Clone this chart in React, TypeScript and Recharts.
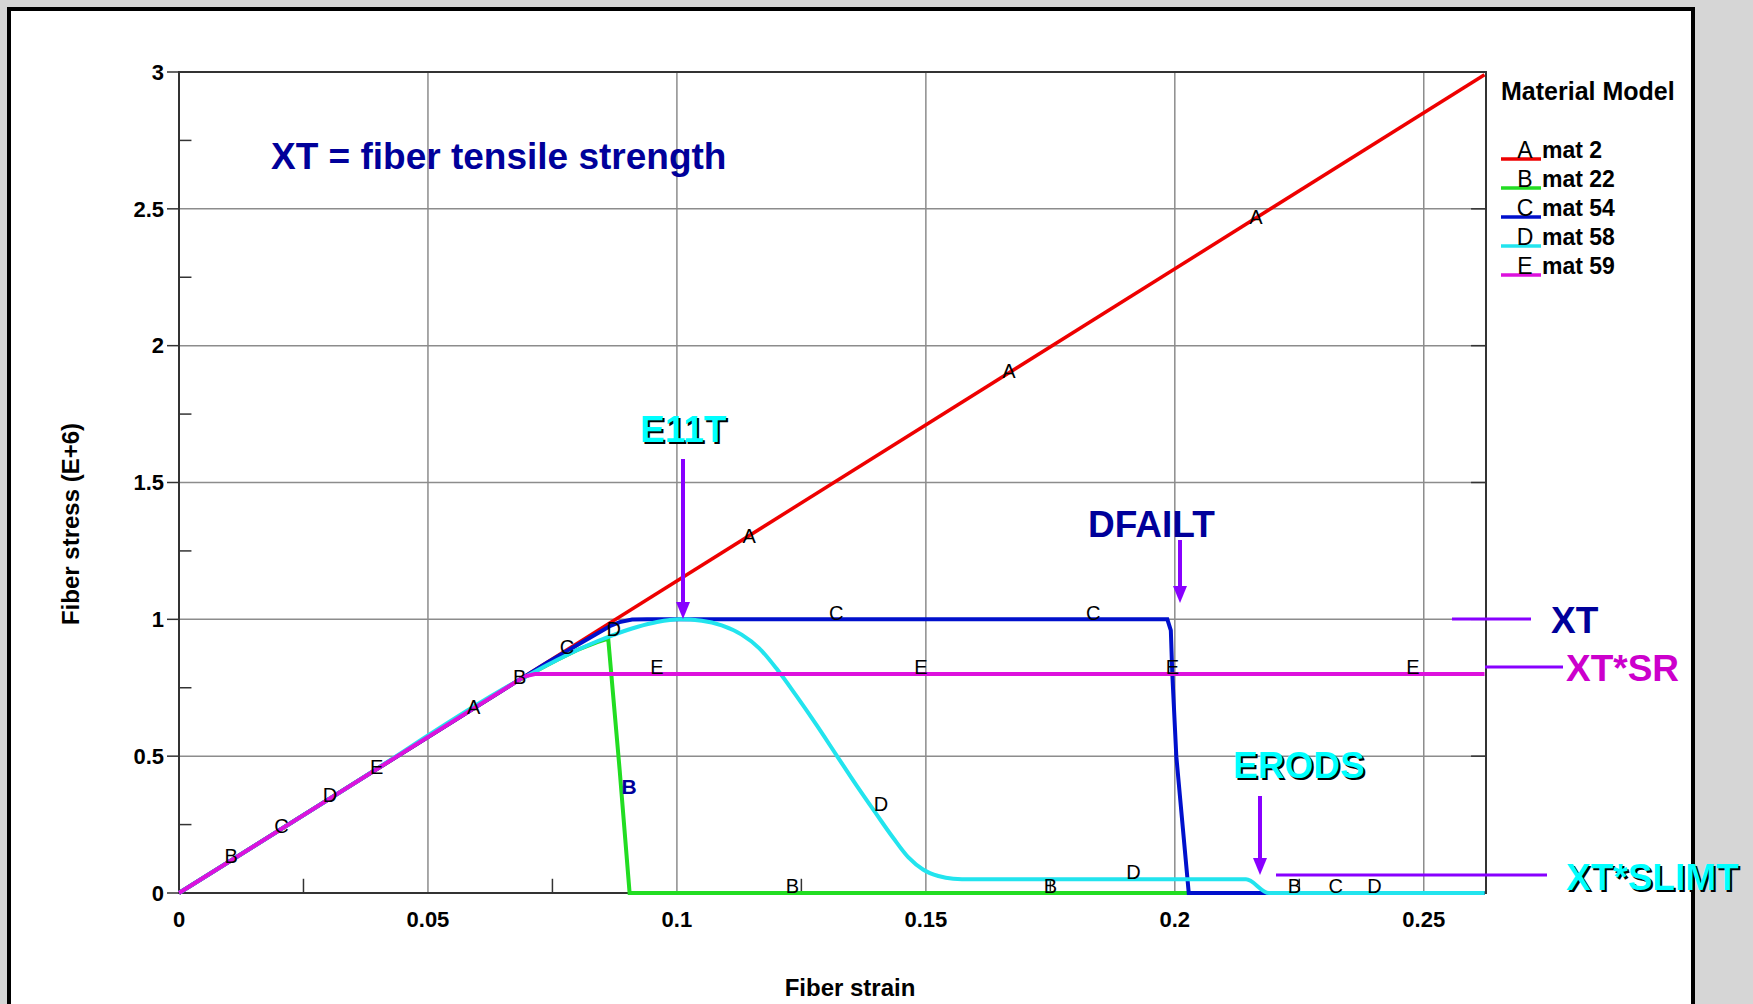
import React from "react";
import {
  ComposedChart,
  Line,
  Scatter,
  XAxis,
  YAxis,
  CartesianGrid,
  ReferenceArea,
  ReferenceLine,
} from "recharts";

const FONT = "'Liberation Sans', Arial, Helvetica, sans-serif";

// curves: fiber strain (x) vs fiber stress E+6 (y)
const mat2 = [
  { x: 0, y: 0 },
  { x: 0.2622, y: 2.99 },
];

const mat22 = [
  { x: 0, y: 0 },
  { x: 0.068, y: 0.775 },
  { x: 0.072, y: 0.814 },
  { x: 0.076, y: 0.852 },
  { x: 0.08, y: 0.888 },
  { x: 0.084, y: 0.917 },
  { x: 0.0862, y: 0.93 },
  { x: 0.0885, y: 0.45 },
  { x: 0.0905, y: 0 },
  { x: 0.2622, y: 0 },
];

const mat54 = [
  { x: 0, y: 0 },
  { x: 0.068, y: 0.775 },
  { x: 0.074, y: 0.842 },
  { x: 0.08, y: 0.906 },
  { x: 0.084, y: 0.948 },
  { x: 0.0865, y: 0.975 },
  { x: 0.0885, y: 0.99 },
  { x: 0.091, y: 0.999 },
  { x: 0.094, y: 1.0 },
  { x: 0.1985, y: 1.0 },
  { x: 0.1992, y: 0.96 },
  { x: 0.1995, y: 0.8 },
  { x: 0.2003, y: 0.5 },
  { x: 0.2016, y: 0.24 },
  { x: 0.2028, y: 0 },
  { x: 0.2622, y: 0 },
];

const mat58 = [
  { x: 0, y: 0 },
  { x: 0.034, y: 0.3875 },
  { x: 0.068, y: 0.775 },
  { x: 0.072, y: 0.814 },
  { x: 0.076, y: 0.852 },
  { x: 0.08, y: 0.888 },
  { x: 0.084, y: 0.92 },
  { x: 0.088, y: 0.948 },
  { x: 0.092, y: 0.972 },
  { x: 0.096, y: 0.99 },
  { x: 0.1005, y: 1.0 },
  { x: 0.105, y: 0.995 },
  { x: 0.109, y: 0.978 },
  { x: 0.113, y: 0.944 },
  { x: 0.1165, y: 0.895 },
  { x: 0.12, y: 0.82 },
  { x: 0.124, y: 0.72 },
  { x: 0.128, y: 0.615 },
  { x: 0.132, y: 0.505 },
  { x: 0.136, y: 0.395 },
  { x: 0.14, y: 0.29 },
  { x: 0.1435, y: 0.2 },
  { x: 0.1465, y: 0.13 },
  { x: 0.1495, y: 0.085 },
  { x: 0.1525, y: 0.062 },
  { x: 0.1555, y: 0.052 },
  { x: 0.159, y: 0.05 },
  { x: 0.2143, y: 0.05 },
  { x: 0.2189, y: 0 },
  { x: 0.2622, y: 0 },
];

const mat59 = [
  { x: 0, y: 0 },
  { x: 0.0695, y: 0.792 },
  { x: 0.0715, y: 0.8 },
  { x: 0.2622, y: 0.8 },
];

// letter markers along the curves
const curveLabels = [
  { x: 0.0592, y: 0.68, t: "A" },
  { x: 0.1145, y: 1.306, t: "A" },
  { x: 0.1667, y: 1.906, t: "A" },
  { x: 0.2163, y: 2.47, t: "A" },
  { x: 0.0105, y: 0.135, t: "B" },
  { x: 0.0684, y: 0.79, t: "B" },
  { x: 0.1232, y: 0.025, t: "B" },
  { x: 0.175, y: 0.025, t: "B" },
  { x: 0.224, y: 0.025, t: "B" },
  { x: 0.0206, y: 0.245, t: "C" },
  { x: 0.0779, y: 0.898, t: "C" },
  { x: 0.132, y: 1.024, t: "C" },
  { x: 0.1836, y: 1.024, t: "C" },
  { x: 0.2323, y: 0.025, t: "C" },
  { x: 0.0303, y: 0.359, t: "D" },
  { x: 0.0873, y: 0.963, t: "D" },
  { x: 0.141, y: 0.327, t: "D" },
  { x: 0.1917, y: 0.078, t: "D" },
  { x: 0.2401, y: 0.025, t: "D" },
  { x: 0.0397, y: 0.461, t: "E" },
  { x: 0.096, y: 0.824, t: "E" },
  { x: 0.149, y: 0.824, t: "E" },
  { x: 0.1995, y: 0.824, t: "E" },
  { x: 0.2478, y: 0.824, t: "E" },
];

const boldLabels = [{ x: 0.0904, y: 0.388, t: "B" }];

const xTicks = [0, 0.05, 0.1, 0.15, 0.2, 0.25];
const yTicks = [0, 0.5, 1, 1.5, 2, 2.5, 3];
const xMinor = [0.025, 0.075, 0.125, 0.175, 0.225];
const yMinor = [0.25, 0.75, 1.25, 1.75, 2.25, 2.75];

const legendItems = [
  { letter: "A", name: "mat 2", color: "#ee0000" },
  { letter: "B", name: "mat 22", color: "#22dd22" },
  { letter: "C", name: "mat 54", color: "#0010cc" },
  { letter: "D", name: "mat 58", color: "#22e4ee" },
  { letter: "E", name: "mat 59", color: "#dd11dd" },
];

const X_MAX = 0.2625;
const AXIS = "#333";
const GRID = "#8c8c8c";
const PURPLE = "#8800ff";
const NAVY = "#00009a";
const CYAN = "#00ffff";

const LetterShape = (props: any) => (
  <text
    x={props.cx}
    y={props.cy}
    textAnchor="middle"
    dominantBaseline="central"
    fontFamily={FONT}
    fontSize={20}
    fill="#000"
  >
    {props.payload.t}
  </text>
);

const BoldLetterShape = (props: any) => (
  <text
    x={props.cx}
    y={props.cy}
    textAnchor="middle"
    dominantBaseline="central"
    fontFamily={FONT}
    fontSize={21}
    fontWeight="bold"
    fill={NAVY}
  >
    {props.payload.t}
  </text>
);

function Arrow({ x, y1, y2 }: { x: number; y1: number; y2: number }) {
  const head = 17;
  return (
    <g>
      <line x1={x} y1={y1} x2={x} y2={y2 - head + 2} stroke={PURPLE} strokeWidth={4} />
      <polygon points={`${x - 7},${y2 - head} ${x + 7},${y2 - head} ${x},${y2}`} fill={PURPLE} />
    </g>
  );
}

function ShadowText({ x, y, text, color }: { x: number; y: number; text: string; color: string }) {
  return (
    <g fontFamily={FONT} fontSize={37} fontWeight="bold">
      <text x={x + 2} y={y + 2} fill="#000">
        {text}
      </text>
      <text x={x} y={y} fill={color}>
        {text}
      </text>
    </g>
  );
}

export default function App() {
  const tickStyle = { fontFamily: FONT, fontSize: 22, fontWeight: "bold", fill: "#000" };
  return (
    <div style={{ position: "absolute", left: 0, top: 0, width: 1753, height: 1004, background: "#d6d6d6", overflow: "hidden" }}>
      <div
        style={{
          position: "absolute",
          left: 7,
          top: 7,
          width: 1688,
          height: 1010,
          border: "4px solid #000",
          boxSizing: "border-box",
          background: "#fff",
        }}
      />
      <div style={{ position: "absolute", left: 0, top: 0 }}>
        <ComposedChart width={1753} height={1004} margin={{ top: 72, right: 267, bottom: 71, left: 119 }}>
          <CartesianGrid stroke={GRID} strokeWidth={1.5} />
          <ReferenceArea x1={0} x2={X_MAX} y1={0} y2={3} fill="none" stroke={AXIS} strokeWidth={2} />
          <XAxis
            type="number"
            dataKey="x"
            domain={[0, X_MAX]}
            ticks={xTicks}
            tickFormatter={(v: number) => String(v)}
            height={40}
            tickSize={0}
            tickMargin={18}
            tick={tickStyle}
            axisLine={false}
          />
          <YAxis
            type="number"
            dataKey="y"
            domain={[0, 3]}
            ticks={yTicks}
            width={60}
            tickSize={12}
            tickMargin={3}
            tick={tickStyle}
            tickLine={{ stroke: AXIS, strokeWidth: 1.5 }}
            axisLine={false}
          />
          {yMinor.map((v) => (
            <ReferenceLine
              key={"ym" + v}
              segment={[
                { x: 0, y: v },
                { x: 0.0025, y: v },
              ]}
              stroke={AXIS}
              strokeWidth={1.5}
            />
          ))}
          {yTicks.map((v) => (
            <ReferenceLine
              key={"yr" + v}
              segment={[
                { x: X_MAX - 0.003, y: v },
                { x: X_MAX, y: v },
              ]}
              stroke={AXIS}
              strokeWidth={1.5}
            />
          ))}
          {xMinor.map((v) => (
            <ReferenceLine
              key={"xm" + v}
              segment={[
                { x: v, y: 0 },
                { x: v, y: 0.052 },
              ]}
              stroke={AXIS}
              strokeWidth={1.5}
            />
          ))}
          <Line data={mat2} dataKey="y" type="linear" stroke="#ee0000" strokeWidth={3.5} dot={false} isAnimationActive={false} />
          <Line data={mat22} dataKey="y" type="linear" stroke="#22dd22" strokeWidth={4} dot={false} isAnimationActive={false} />
          <Line data={mat54} dataKey="y" type="linear" stroke="#0010cc" strokeWidth={4} dot={false} isAnimationActive={false} />
          <Line data={mat58} dataKey="y" type="monotone" stroke="#22e4ee" strokeWidth={4} dot={false} isAnimationActive={false} />
          <Line data={mat59} dataKey="y" type="linear" stroke="#dd11dd" strokeWidth={4} dot={false} isAnimationActive={false} />
          <Scatter data={curveLabels} dataKey="y" shape={LetterShape} isAnimationActive={false} />
          <Scatter data={boldLabels} dataKey="y" shape={BoldLetterShape} isAnimationActive={false} />
        </ComposedChart>
      </div>
      <svg width={1753} height={1004} style={{ position: "absolute", left: 0, top: 0, pointerEvents: "none" }}>
        <text
          x={70}
          y={524}
          transform="rotate(-90 70 524)"
          textAnchor="middle"
          dominantBaseline="central"
          fontFamily={FONT}
          fontSize={24}
          fontWeight="bold"
        >
          Fiber stress (E+6)
        </text>
        <text x={850} y={996} textAnchor="middle" fontFamily={FONT} fontSize={24} fontWeight="bold">
          Fiber strain
        </text>

        <text x={1501} y={100} fontFamily={FONT} fontSize={25} fontWeight="bold">
          Material Model
        </text>
        {legendItems.map((it, i) => {
          const y = 159 + i * 29;
          return (
            <g key={it.letter}>
              <line x1={1501} y1={y} x2={1541} y2={y} stroke={it.color} strokeWidth={3.5} />
              <text x={1525} y={y - 1} textAnchor="middle" fontFamily={FONT} fontSize={23}>
                {it.letter}
              </text>
              <text x={1542} y={y - 1} fontFamily={FONT} fontSize={23} fontWeight="bold">
                {it.name}
              </text>
            </g>
          );
        })}

        <text x={271} y={169} fontFamily={FONT} fontSize={37} fontWeight="bold" fill={NAVY}>
          XT = fiber tensile strength
        </text>

        <ShadowText x={640} y={442} text="E11T" color={CYAN} />
        <Arrow x={683} y1={459} y2={619} />

        <text x={1088} y={537} fontFamily={FONT} fontSize={37} fontWeight="bold" fill={NAVY}>
          DFAILT
        </text>
        <Arrow x={1180} y1={540} y2={603} />

        <line x1={1452} y1={619} x2={1531} y2={619} stroke={PURPLE} strokeWidth={3} />
        <text x={1551} y={633} fontFamily={FONT} fontSize={37} fontWeight="bold" fill={NAVY}>
          XT
        </text>

        <line x1={1485} y1={667} x2={1563} y2={667} stroke={PURPLE} strokeWidth={3} />
        <text x={1566} y={681} fontFamily={FONT} fontSize={37} fontWeight="bold" fill="#cc00cc">
          XT*SR
        </text>

        <ShadowText x={1233} y={778} text="ERODS" color={CYAN} />
        <Arrow x={1260} y1={796} y2={875} />

        <line x1={1276} y1={875} x2={1547} y2={875} stroke={PURPLE} strokeWidth={3} />
        <ShadowText x={1566} y={890} text="XT*SLIMT" color={CYAN} />
      </svg>
    </div>
  );
}
